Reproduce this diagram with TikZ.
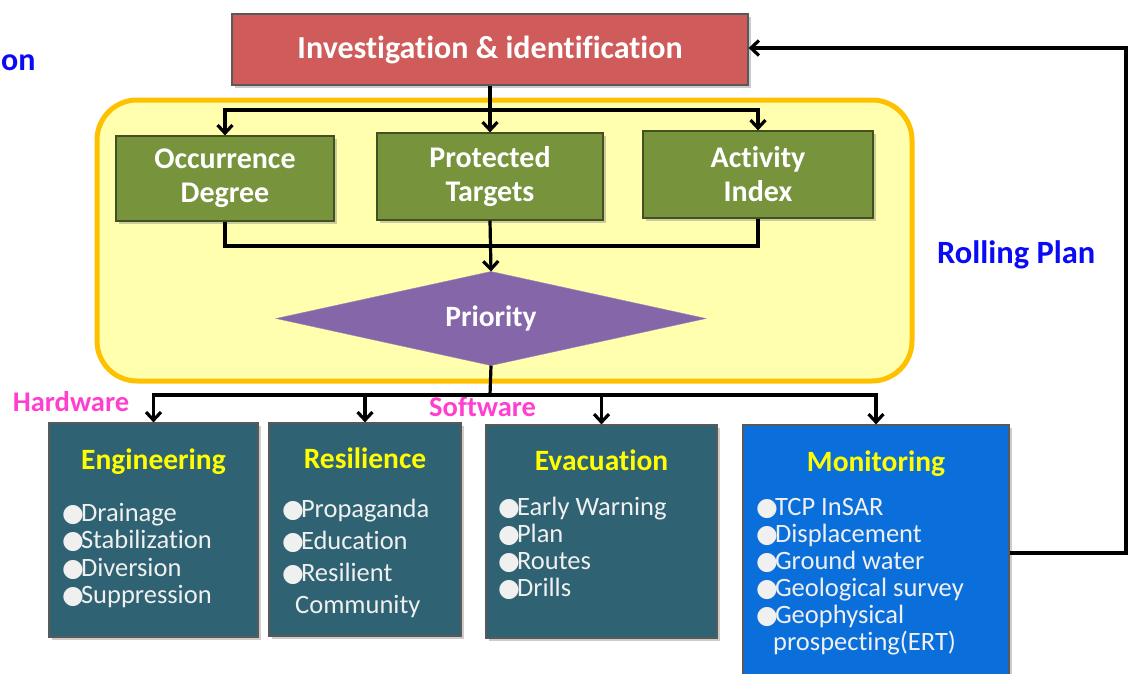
\documentclass[tikz,border=0pt]{standalone}
\usepackage{fontspec}
\setmainfont{Carlito}[Ligatures=NoCommon]
\newfontfamily\symfont{DejaVu Sans}
\usetikzlibrary{arrows.meta, positioning, shapes.geometric, shadows}
\definecolor{boxred}{HTML}{CF5B5A}
\definecolor{panelfill}{HTML}{FFFFAE}
\definecolor{panelline}{HTML}{FFC000}
\definecolor{boxgreen}{HTML}{77933C}
\definecolor{boxpurple}{HTML}{8566A8}
\definecolor{boxteal}{HTML}{2F6272}
\definecolor{boxblue}{HTML}{0A6FDA}
\definecolor{tagpink}{HTML}{FF3FCF}
\definecolor{planblue}{HTML}{0A0AF5}
\definecolor{titleyellow}{HTML}{FFFF00}
\newcommand{\bul}{{\symfont\fontsize{25}{25}\selectfont ●}\kern-3pt}

\begin{document}
\begin{tikzpicture}[x=1pt, y=-1pt,
    >={Straight Barb[length=8pt, width=15pt]},
    flow/.style={->, line width=3.2pt},
    link/.style={line width=3.2pt},
    shadowed/.style={drop shadow={opacity=0.4, shadow xshift=2.5pt, shadow yshift=-2.5pt}},
    headbox/.style={draw=black!65, line width=1.2pt, fill=boxred, minimum width=516pt, minimum height=71pt, inner sep=0pt, shadowed, text=white, font=\bfseries\fontsize{32}{36}\selectfont},
    critbox/.style={draw=boxgreen!55!black, line width=1.2pt, fill=boxgreen, inner sep=0pt, shadowed, text=white, align=center, font=\bfseries\fontsize{30}{34}\selectfont},
    decision/.style={diamond, aspect=4.6, fill=boxpurple, draw=boxpurple!80!white, minimum width=430pt, minimum height=94pt, inner sep=0pt, outer sep=0pt, text=white, font=\bfseries\fontsize{29.5}{32}\selectfont},
    panel/.style={draw=panelline, line width=5pt, fill=panelfill, rounded corners=40pt, minimum width=815pt, minimum height=281pt},
    measurebox/.style={draw=black!65, line width=1.2pt, fill=#1, inner sep=0pt, shadowed},
    boxtitle/.style={anchor=base, inner sep=0pt, text=titleyellow, font=\bfseries\fontsize{29.5}{32}\selectfont},
    bulletitem/.style={anchor=base west, inner sep=0pt, text=white!94!black, font=\fontsize{26.5}{30}\selectfont},
    tag/.style={anchor=base west, inner sep=0pt, text=#1, font=\bfseries\fontsize{28.5}{32}\selectfont},
]
    \useasboundingbox (0,0) rectangle (1129,673);

    % Priority assessment panel
    \node[panel] (panel) at (504.5,240.5) {};

    % Investigation
    \node[headbox] (inv) at (490,49.5) {Investigation \& identification};

    % Criteria
    \node[critbox, minimum width=218pt, minimum height=85pt] (occ) at (225,178.5) {Occurrence\\Degree};
    \node[critbox, minimum width=226pt, minimum height=87pt] (prot) at (490,176.5) {Protected\\Targets};
    \node[critbox, minimum width=230pt, minimum height=87pt] (act) at (758,174.5) {Activity\\Index};

    % Priority
    \node[decision] (pri) at (491,318.5) {Priority};

    % Measures
    \node[measurebox=boxteal, minimum width=209pt, minimum height=214pt] (eng) at (153.5,530) {};
    \node[measurebox=boxteal, minimum width=192pt, minimum height=213pt] (res) at (365,529.5) {};
    \node[measurebox=boxteal, minimum width=231pt, minimum height=213pt] (evac) at (601.5,531.5) {};
    \node[measurebox=boxblue, minimum width=266pt, minimum height=275pt] (mon) at (876,562.5) {};

    \node[boxtitle] (engtitle) at (153.5,469.3) {Engineering};
    \node[boxtitle] (restitle) at (365,468.3) {Resilience};
    \node[boxtitle] (evactitle) at (601.5,470.7) {Evacuation};
    \node[boxtitle] (montitle) at (876,471.7) {Monitoring};

    \foreach \entry [count=\i from 0] in {Drainage, Stabilization, Diversion, Suppression}
        \node[bulletitem] (eng-\i) at (62, {521.7+27.2*\i}) {\bul\entry};
    \foreach \entry [count=\i from 0] in {Propaganda, Education, Resilient}
        \node[bulletitem] (res-\i) at (282, {517.3+32*\i}) {\bul\entry};
    \node[bulletitem] (res-3) at (295,613.3) {Community};
    \foreach \entry [count=\i from 0] in {Early Warning, Plan, Routes, Drills}
        \node[bulletitem] (evac-\i) at (498, {515+27.2*\i}) {\bul\entry};
    \foreach \entry [count=\i from 0] in {TCP InSAR, Displacement, Ground water, Geological survey, Geophysical}
        \node[bulletitem] (mon-\i) at (756, {515+27.1*\i}) {\bul\entry};
    \node[bulletitem] (mon-5) at (773,650) {prospecting(ERT)};

    % Labels
    \node[tag=tagpink] (hw) at (12.7,411.7) {Hardware};
    \node[tag=tagpink] (sw) at (429,416.7) {Software};
    \node[tag=planblue, font=\bfseries\fontsize{32.5}{36}\selectfont] (rolling) at (937,263) {Rolling Plan};
    \node[anchor=base west, inner sep=0pt, text=planblue, font=\bfseries\fontsize{32}{36}\selectfont] (cut) at (1,70) {on};

    % Split to criteria
    \coordinate (split) at (490,110);
    \draw[flow] (inv.south) -- (split) -| (occ.north);
    \draw[flow] (split) -| (act.north);
    \draw[flow] (split) -- (prot.north);

    % Merge to priority
    \coordinate (merge) at (490,246);
    \draw[link] (occ.south) |- (merge);
    \draw[link] (act.south) |- (merge);
    \draw[flow] (prot.south) -- (pri.north);

    % Fork to measures
    \coordinate (fork) at (490,395);
    \draw[link] (pri.south) -- (fork);
    \draw[flow] (fork) -| (eng.north);
    \draw[flow] (fork) -| (res.north);
    \draw[flow] (fork) -| (evac.north);
    \draw[flow] (fork) -| (mon.north);

    % Rolling plan feedback
    \coordinate (loopbot) at (1126,553);
    \coordinate (looptop) at (1126,48);
    \draw[flow] (mon.east |- loopbot) -- (loopbot) -- (looptop) -- (inv.east |- looptop);
\end{tikzpicture}
\end{document}
